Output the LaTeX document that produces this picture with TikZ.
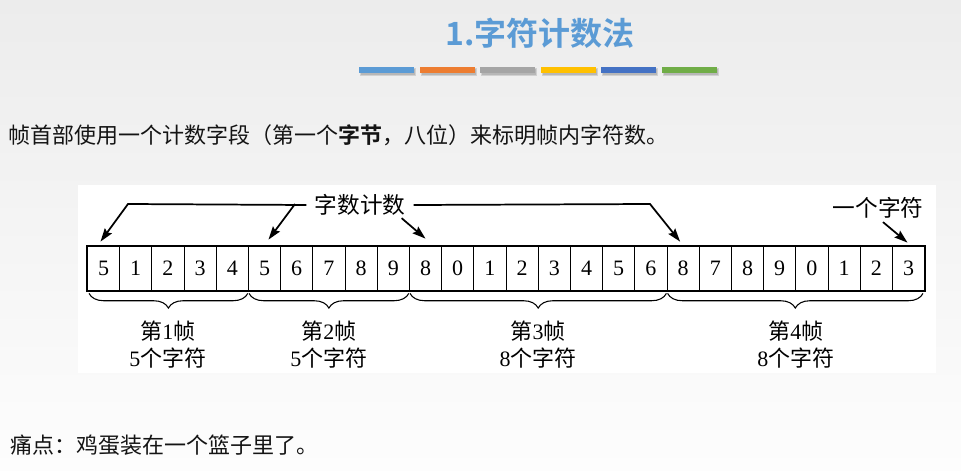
\documentclass[tikz,border=0pt]{standalone}
\usepackage{fontspec}
\setmainfont{Liberation Serif}
\newfontfamily\cjk{Noto Sans CJK SC}[BoldFont={Noto Sans CJK SC Bold}]
\newcommand\zh[1]{{\cjk #1}}
\usepackage{tikz}
\usetikzlibrary{arrows.meta}
\usetikzlibrary{calc}
\usetikzlibrary{decorations.pathreplacing}

\definecolor{titleblue}{RGB}{91,155,213}
\definecolor{barorange}{RGB}{237,125,49}
\definecolor{bargray}{RGB}{165,165,165}
\definecolor{bargold}{RGB}{255,192,0}
\definecolor{bardarkblue}{RGB}{68,114,196}
\definecolor{bargreen}{RGB}{112,173,71}

\tikzset{
  cell/.style={draw, line width=0.6pt, minimum width=24.15pt, minimum height=33.75pt, inner sep=0pt, anchor=west, font=\fontsize{16.5}{18}\selectfont},
  frbrace/.style={decorate, decoration={brace, mirror, amplitude=11pt}, line width=0.8pt},
  frlabel/.style={align=center, inner sep=0pt, font=\fontsize{16.5}{20.25}\selectfont},
  carrow/.style={line width=1.3pt, -{Stealth[length=10pt, width=6.5pt, inset=1.5pt]}},
  toplabel/.style={inner xsep=6pt, inner ysep=1pt, font=\cjk\fontsize{17}{20}\selectfont},
  bodytext/.style={anchor=west, inner sep=0pt, text={rgb,255:red,20;green,20;blue,20}, font=\cjk\fontsize{16.5}{20}\selectfont},
  barshadow/.style={fill=black, opacity=0.12}
}

\begin{document}
\begin{tikzpicture}[x=0.75pt,y=0.75pt,yscale=-1,xscale=1]
\useasboundingbox (0,0) rectangle (961,471);

%Background
\shade [top color={rgb,255:red,236;green,236;blue,236}, bottom color={rgb,255:red,253;green,253;blue,253}] (0,0) rectangle (961,471);
\fill [white] (78,185) rectangle (936,373);

% Title
\node [font=\cjk\bfseries\fontsize{24}{28}\selectfont, text=titleblue] (title) at (540,33) {1.字符计数法};

%Colour bars
\foreach \col [count=\i from 0] in {titleblue,barorange,bargray,bargold,bardarkblue,bargreen}{
  \fill [barshadow] (360+60.5*\i,68) rectangle (416+60.5*\i,76);
  \fill [barshadow] (361+60.5*\i,69) rectangle (415+60.5*\i,75);
  \fill [fill=\col] (359+60.5*\i,67) rectangle (414+60.5*\i,73);
}

% Text Node
\node [bodytext] (intro) at (8,135) {帧首部使用一个计数字段（第一个{\bfseries 字节}，八位）来标明帧内字符数。};

%Cells
\foreach \d [count=\i from 0] in {5,1,2,3,4,5,6,7,8,9,8,0,1,2,3,4,5,6,8,7,8,9,0,1,2,3}
  \node [cell] (c\i) at (87+32.2*\i,268.5) {\d};
\draw [line width=1.6pt] (c0.north west) rectangle (c25.south east);

%Braces
\draw [frbrace] ($(c0.south west)+(2,2)$) -- ($(c4.south east)+(-1,2)$);
\draw [frbrace] ($(c5.south west)+(1,2)$) -- ($(c9.south east)+(-1,2)$);
\draw [frbrace] ($(c10.south west)+(1,2)$) -- ($(c17.south east)+(-1,2)$);
\draw [frbrace] ($(c18.south west)+(1,2)$) -- ($(c25.south east)+(-2,2)$);

% Text Node
\node [frlabel] (f1) at ($(c0.south west)!0.5!(c4.south east)+(0,53)$) {\zh{第}1\zh{帧}\\5\zh{个字符}};
\node [frlabel] (f2) at ($(c5.south west)!0.5!(c9.south east)+(0,53)$) {\zh{第}2\zh{帧}\\5\zh{个字符}};
\node [frlabel] (f3) at ($(c10.south west)!0.5!(c17.south east)+(0,53)$) {\zh{第}3\zh{帧}\\8\zh{个字符}};
\node [frlabel] (f4) at ($(c18.south west)!0.5!(c25.south east)+(0,53)$) {\zh{第}4\zh{帧}\\8\zh{个字符}};

% Text Node
\node [toplabel] (cnt) at (360,205) {字数计数};
\node [toplabel] (ch) at (878,208) {一个字符};

%Straight Lines
\coordinate (k1) at (128,204);
\coordinate (k2) at (295,204);
\coordinate (k3) at (650,204);
\draw [carrow] (cnt.west) -- (k1) -- ($(c0.north)+(-3,-4)$);
\draw [carrow] (k2) -- ($(c5.north)+(4,-6)$);
\draw [carrow] ($(cnt.south east)+(-12,1)$) -- ($(c10.north)+(0,-7)$);
\draw [carrow] (cnt.east) -- (k3) -- ($(c18.north)+(-3,-4)$);
\draw [carrow] ($(ch.south)+(5,2)$) -- ($(c25.north)+(-1,-3)$);

% Text Node
\node [bodytext] (pain) at (10,445) {痛点：鸡蛋装在一个篮子里了。};

\end{tikzpicture}
\end{document}
